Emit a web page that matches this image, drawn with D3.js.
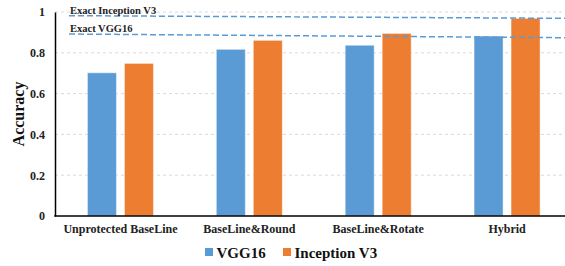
<!DOCTYPE html>
<html>
<head>
<meta charset="utf-8">
<script src="https://cdn.jsdelivr.net/npm/d3@7"></script>
<style>
  body { margin: 0; background: #fff; }
  svg { display: block; }
  svg text { font-family: "Liberation Serif", "Times New Roman", serif; font-weight: bold; }
</style>
</head>
<body>
<div class="chart-container"></div>
<script>
let categories = ['Unprotected BaseLine', 'BaseLine&Round', 'BaseLine&Rotate', 'Hybrid']
let seriesNames = ['VGG16', 'Inception V3']
let vgg16 = [0.702, 0.817, 0.837, 0.882]
let inceptionV3 = [0.748, 0.861, 0.895, 0.969]
let yTicks = [0, 0.2, 0.4, 0.6, 0.8, 1]
let yTickLabels = ['0', '0.2', '0.4', '0.6', '0.8', '1']
// reference lines, drawn a little tilted in the original (start, end)
let exactNames = ['Exact Inception V3', 'Exact VGG16']
let exactStart = [0.982, 0.892]
let exactEnd = [0.969, 0.874]

let width = 565,
    height = 266,
    margin = { top: 12, left: 55, bottom: 50 },
    plotRight = 571.5

let colors = ['#5B9BD5', '#ED7D31']

let svg = d3.select('.chart-container')
  .append('svg')
  .attr('width', width)
  .attr('height', height)

let x = d3.scaleBand()
  .domain(categories)
  .range([margin.left + 1, plotRight])

let x1 = d3.scaleBand()
  .domain(seriesNames)
  .range([x.bandwidth() / 2 - 33, x.bandwidth() / 2 + 33])
  .paddingInner(0.216)

let y = d3.scaleLinear()
  .domain([0, 1])
  .range([height - margin.bottom, margin.top])

// gridlines
svg.append('g')
  .selectAll('line')
  .data(yTicks.slice(1))
  .enter()
  .append('line')
  .attr('x1', margin.left)
  .attr('x2', width)
  .attr('y1', d => y(d))
  .attr('y2', d => y(d))
  .attr('stroke', '#d9d9d9')
  .attr('stroke-width', 1)
  .attr('stroke-dasharray', '3,3')

// bars
let data = categories.map((c, i) => ({ cat: c, values: [vgg16[i], inceptionV3[i]] }))

let groups = svg.selectAll('.group')
  .data(data)
  .enter()
  .append('g')
  .attr('class', 'group')
  .attr('transform', d => `translate(${x(d.cat)},0)`)

groups.selectAll('rect')
  .data(d => d.values.map((v, j) => ({ name: seriesNames[j], value: v, j: j })))
  .enter()
  .append('rect')
  .attr('x', d => x1(d.name))
  .attr('width', x1.bandwidth())
  .attr('y', d => y(d.value))
  .attr('height', d => y(0) - y(d.value))
  .attr('fill', d => colors[d.j])
  .attr('stroke', '#fff')
  .attr('stroke-opacity', 0.45)
  .attr('stroke-width', 1)

// y axis
let yAxis = d3.axisLeft(y)
  .tickValues(yTicks)
  .tickFormat((d, i) => yTickLabels[i])
  .tickSize(0)
  .tickPadding(10)

let gy = svg.append('g')
  .attr('transform', `translate(${margin.left},0)`)
  .call(yAxis)
gy.attr('font-family', null)
gy.select('.domain').attr('stroke', '#000').attr('stroke-width', 1.5)
gy.selectAll('text')
  .attr('font-size', 12)
  .attr('fill', '#222')

// x axis
let xAxis = d3.axisBottom(x).tickSize(0).tickPadding(8)
let gx = svg.append('g')
  .attr('transform', `translate(0,${y(0)})`)
  .call(xAxis)
gx.attr('font-family', null)
gx.select('.domain').remove()
gx.append('line')
  .attr('x1', margin.left - 0.75)
  .attr('x2', width)
  .attr('stroke', '#000')
  .attr('stroke-width', 1.5)
gx.selectAll('text')
  .attr('font-size', 12)
  .attr('fill', '#222')

// axis title
svg.append('text')
  .attr('transform', `translate(24,${(y(0) + y(1)) / 2}) rotate(-90)`)
  .attr('text-anchor', 'middle')
  .attr('font-size', 16)
  .attr('fill', '#111')
  .text('Accuracy')

// exact accuracy reference lines
exactNames.forEach((name, i) => {
  svg.append('line')
    .attr('x1', 69)
    .attr('x2', width)
    .attr('y1', y(exactStart[i]))
    .attr('y2', y(exactEnd[i]))
    .attr('stroke', colors[0])
    .attr('stroke-width', 1.5)
    .attr('stroke-dasharray', '6,3')

  svg.append('text')
    .attr('x', 70)
    .attr('y', y(exactStart[i]) - 2)
    .attr('font-size', 10.5)
    .attr('fill', '#222')
    .text(name)
})

// legend
let legendX = [205, 283]
seriesNames.forEach((name, i) => {
  svg.append('rect')
    .attr('x', legendX[i])
    .attr('y', 248)
    .attr('width', 8)
    .attr('height', 8)
    .attr('fill', colors[i])
  svg.append('text')
    .attr('x', legendX[i] + 11.5)
    .attr('y', 258)
    .attr('font-size', 15)
    .attr('fill', '#111')
    .text(name)
})
</script>
</body>
</html>
